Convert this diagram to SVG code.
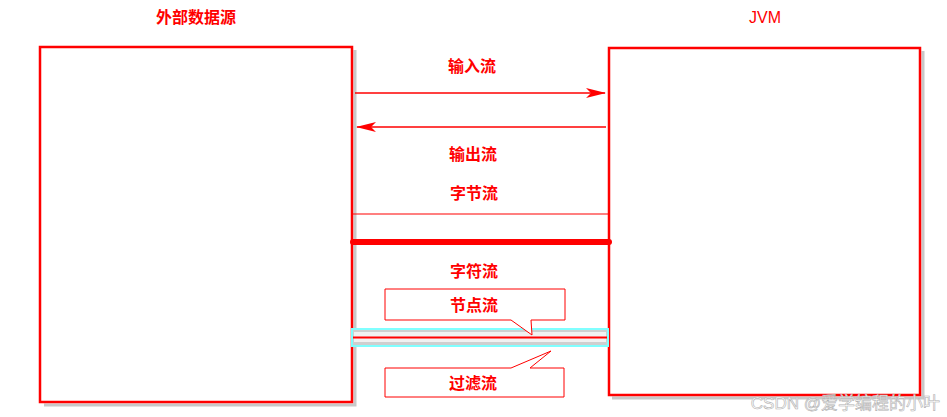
<svg xmlns="http://www.w3.org/2000/svg" width="947" height="417" viewBox="0 0 947 417">
<defs>
<style>
.box{fill:#fff;stroke:#ff0000;stroke-width:2.5}
.shadow{fill:none;stroke:#c8c8c8;stroke-width:3}
.lbl{font-family:"Noto Sans CJK SC","Liberation Sans",sans-serif;font-size:16px;font-weight:bold;fill:#ff0000;text-anchor:middle}
.ln{stroke:#ff0000;fill:none}
.call{fill:#fff;stroke:#ff0000;stroke-width:1}
</style>
<marker id="ah" viewBox="0 0 20 10" refX="19" refY="5" markerWidth="20" markerHeight="10" markerUnits="userSpaceOnUse" orient="auto">
<path d="M0,0 L20,5 L0,10 L5,5 Z" fill="#ff0000"/>
</marker>
</defs>
<rect width="947" height="417" fill="#fff"/>
<g id="source">
<path class="shadow" d="M355,50 V405 H44"/>
<rect class="box" x="40" y="47" width="312" height="355"/>
<text class="lbl" x="196" y="23">外部数据源</text>
</g>
<g id="jvm">
<path class="shadow" d="M923,51 V398 H612"/>
<rect class="box" x="609" y="48" width="311" height="347"/>
<text x="765" y="23" font-family="Liberation Sans, sans-serif" font-size="16" fill="#ff0000" text-anchor="middle">JVM</text>
</g>
<g id="connectors">
<line class="ln" x1="355" y1="93" x2="605" y2="93" stroke-width="1.5" marker-end="url(#ah)"/>
<line class="ln" x1="606" y1="127" x2="357" y2="127" stroke-width="1.5" marker-end="url(#ah)"/>
<line class="ln" x1="352" y1="214" x2="609" y2="214" stroke-width="1.2"/>
<line class="ln" x1="353" y1="242" x2="609" y2="242" stroke-width="6" stroke-linecap="round"/>
<rect x="352" y="329" width="256" height="17" fill="#cfcfcf" stroke="#80ffff" stroke-width="2"/>
<rect x="354" y="332" width="252" height="10" fill="#ffffff" opacity="0.7"/>
<line class="ln" x1="353" y1="337.5" x2="607" y2="337.5" stroke-width="2"/>
</g>
<g id="labels">
<text class="lbl" x="472" y="72">输入流</text>
<text class="lbl" x="473" y="160">输出流</text>
<text class="lbl" x="474" y="199">字节流</text>
<text class="lbl" x="474" y="277">字符流</text>
</g>
<g id="node-stream">
<path class="call" d="M385,289 H565 V320 H531 L532,335 L511,320 H385 Z"/>
<text class="lbl" x="474" y="311">节点流</text>
</g>
<g id="filter-stream">
<path class="call" d="M385,368 H511 L551,351 L530,368 H564 V397 H385 Z"/>
<text class="lbl" x="473" y="389">过滤流</text>
</g>
<text x="940" y="409" font-family="Liberation Sans, 'Noto Sans CJK SC', sans-serif" font-size="17" fill="#ffffff" stroke="#b0b0b0" stroke-width="0.6" text-anchor="end">CSDN @爱学编程的小叶</text>
</svg>
